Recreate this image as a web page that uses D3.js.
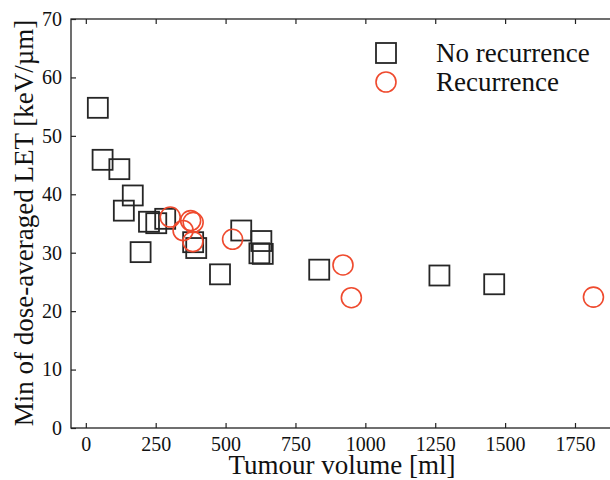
<!DOCTYPE html>
<html>
<head>
<meta charset="utf-8">
<script src="https://d3js.org/d3.v7.min.js"></script>
<style>
    body { margin: 0; background: #fff; }
    text { font-family: "Liberation Serif", "Times New Roman", serif; }
</style>
</head>
<body>
<svg id="drawing_region"></svg>
<script>
// No recurrence (squares)
const noRecVolume = [43, 60, 120, 168, 136, 196, 226, 252, 284, 384, 395, 556, 621, 628, 633, 480, 835, 1265, 1461];
const noRecLET    = [54.8, 45.9, 44.3, 39.8, 37.2, 30.1, 35.3, 35.05, 35.8, 31.8, 30.8, 33.8, 29.9, 32.0, 29.8, 26.3, 27.1, 26.1, 24.6];

// Recurrence (circles)
const recVolume = [302, 375, 384, 348, 383, 525, 920, 950, 1816];
const recLET    = [36.1, 35.5, 35.2, 33.8, 31.9, 32.3, 27.9, 22.3, 22.4];

const xTicks = [0, 250, 500, 750, 1000, 1250, 1500, 1750];
const yTicks = [0, 10, 20, 30, 40, 50, 60, 70];
const seriesNames = ["No recurrence", "Recurrence"];

const xLabel = "Tumour volume [ml]";
const yLabel = "Min of dose-averaged LET [keV/\u00b5m]";

const sqColor = "#262626";
const ciColor = "#ef4a2e";

var config = {
    parent: '#drawing_region',
    width: 610,
    height: 480,
    margin: {top:19, right:-10, bottom:52, left:71}
};

const svg = d3.select(config.parent)
    .attr('width', config.width)
    .attr('height', config.height);

const inner_width = config.width - config.margin.left - config.margin.right;
const inner_height = config.height - config.margin.top - config.margin.bottom;

const chart = svg.append('g')
    .attr('transform', `translate(${config.margin.left}, ${config.margin.top})`);

const xscale = d3.scaleLinear()
    .domain([-53, 1911])
    .range([0, inner_width]);

const yscale = d3.scaleLinear()
    .domain([0, 70])
    .range([inner_height, 0]);

// frame
chart.append('rect')
    .attr('width', inner_width)
    .attr('height', inner_height)
    .attr('fill', 'none')
    .attr('stroke', '#222')
    .attr('stroke-width', 1.3);

// ticks point inward on all sides
const xaxis_bottom = d3.axisBottom(xscale).tickValues(xTicks).tickFormat(d3.format('d'))
    .tickSizeInner(-5).tickSizeOuter(0).tickPadding(9);
const xaxis_top = d3.axisTop(xscale).tickValues(xTicks).tickSizeInner(-5).tickSizeOuter(0).tickFormat('');
const yaxis_left = d3.axisLeft(yscale).tickValues(yTicks).tickFormat(d3.format('d'))
    .tickSizeInner(-5).tickSizeOuter(0).tickPadding(9);

chart.append('g')
    .attr('transform', `translate(0, ${inner_height})`)
    .call(xaxis_bottom);
chart.append('g').call(xaxis_top);
chart.append('g').call(yaxis_left);

chart.selectAll('.domain').remove();
chart.selectAll('.tick line').attr('stroke', '#222').attr('stroke-width', 1.2);
chart.selectAll('.tick text')
    .style('font-family', '"Liberation Serif", serif')
    .style('font-size', '20px')
    .attr('fill', '#111');

// squares
const side = 20;
chart.selectAll('rect.sq')
    .data(d3.zip(noRecVolume, noRecLET))
    .enter()
    .append('rect')
    .attr('class', 'sq')
    .attr('x', d => xscale(d[0]) - side / 2)
    .attr('y', d => yscale(d[1]) - side / 2)
    .attr('width', side)
    .attr('height', side)
    .attr('fill', 'none')
    .attr('stroke', sqColor)
    .attr('stroke-width', 1.8);

// circles
chart.selectAll('circle')
    .data(d3.zip(recVolume, recLET))
    .enter()
    .append('circle')
    .attr('cx', d => xscale(d[0]))
    .attr('cy', d => yscale(d[1]))
    .attr('r', 10)
    .attr('fill', 'none')
    .attr('stroke', ciColor)
    .attr('stroke-width', 1.6);

// legend
const legend = svg.append('g').attr('transform', 'translate(386, 53)');
legend.append('rect')
    .attr('x', -side / 2).attr('y', -side / 2)
    .attr('width', side).attr('height', side)
    .attr('fill', 'none').attr('stroke', sqColor).attr('stroke-width', 1.8);
legend.append('circle')
    .attr('cx', 0).attr('cy', 29).attr('r', 10)
    .attr('fill', 'none').attr('stroke', ciColor).attr('stroke-width', 1.6);
legend.selectAll('text')
    .data(seriesNames)
    .enter()
    .append('text')
    .text(d => d)
    .attr('x', 50)
    .attr('y', (d, i) => 9 + i * 29)
    .attr('font-size', '27px')
    .attr('fill', '#111');

// axis labels
svg.append('text')
    .text(xLabel)
    .attr('x', 342)
    .attr('y', 474)
    .attr('text-anchor', 'middle')
    .attr('font-size', '27px')
    .attr('fill', '#111');

svg.append('text')
    .text(yLabel)
    .attr('transform', 'translate(33, 223) rotate(-90)')
    .attr('text-anchor', 'middle')
    .attr('font-size', '27px')
    .attr('fill', '#111');
</script>
</body>
</html>
